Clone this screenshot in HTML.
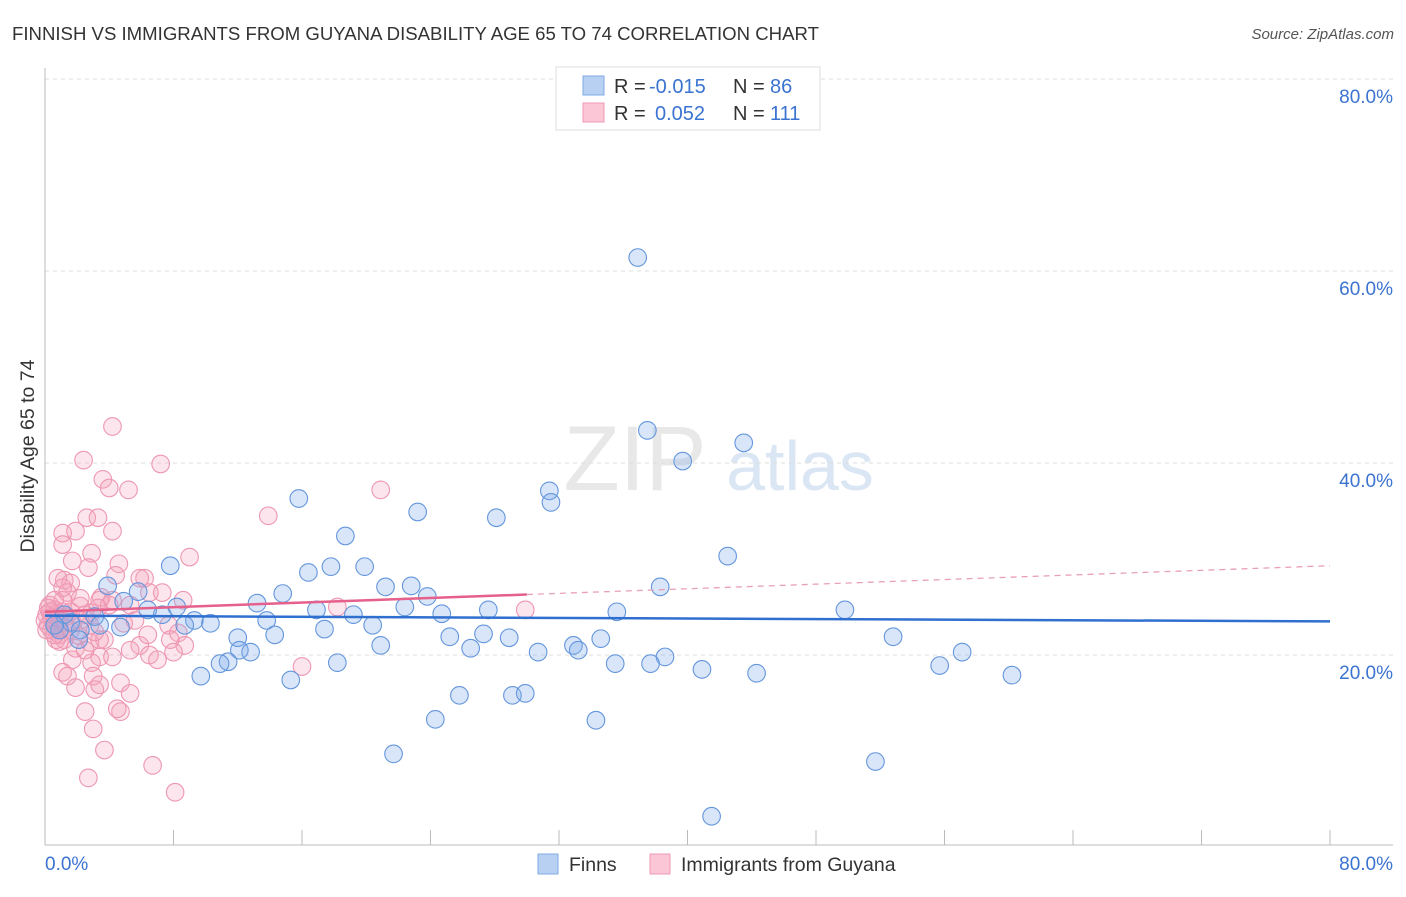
<!DOCTYPE html>
<html><head><meta charset="utf-8"><style>
body{margin:0;background:#fff;font-family:"Liberation Sans",sans-serif;}
svg text{font-family:"Liberation Sans",sans-serif;}
</style></head><body>
<svg id="chart" width="1406" height="892" xmlns="http://www.w3.org/2000/svg">
<text x="12" y="40" font-size="18.6" fill="#333">FINNISH VS IMMIGRANTS FROM GUYANA DISABILITY AGE 65 TO 74 CORRELATION CHART</text>
<text x="1394" y="39" font-size="15" fill="#555" text-anchor="end" font-style="italic">Source: ZipAtlas.com</text>
<text x="635" y="490" font-size="92" fill="#e8e8e8" text-anchor="middle" font-family="Liberation Serif">ZIP</text>
<text x="800" y="490" font-size="70" fill="#dbe6f5" text-anchor="middle">atlas</text>
<g id="grid"></g><g id="axes"></g><g id="pts"></g><g id="trend"></g>
<text transform="translate(34,456) rotate(-90)" font-size="19.5" fill="#333" text-anchor="middle">Disability Age 65 to 74</text>
<g>
<rect x="556" y="67" width="264" height="63" fill="#fff" stroke="#ddd"/>
<rect x="583" y="76" width="21" height="19" fill="#b8d1f3" stroke="#7ea9e0"/>
<rect x="583" y="103" width="21" height="19" fill="#fbc6d5" stroke="#ef9ab4"/>
<text x="614" y="93" font-size="20" fill="#333">R =</text>
<text x="649" y="93" font-size="20" fill="#3b73d1">-0.015</text>
<text x="733" y="93" font-size="20" fill="#333">N =</text>
<text x="770" y="93" font-size="20" fill="#3b73d1">86</text>
<text x="614" y="120" font-size="20" fill="#333">R =</text>
<text x="655" y="120" font-size="20" fill="#3b73d1">0.052</text>
<text x="733" y="120" font-size="20" fill="#333">N =</text>
<text x="770" y="120" font-size="20" fill="#3b73d1">111</text>
</g>
<g>
<rect x="538" y="854" width="20" height="20" fill="#b8d1f3" stroke="#7ea9e0"/>
<text x="569" y="871" font-size="19.5" fill="#333">Finns</text>
<rect x="650" y="854" width="20" height="20" fill="#fbc6d5" stroke="#ef9ab4"/>
<text x="681" y="871" font-size="19.5" fill="#333">Immigrants from Guyana</text>
</g>
</svg>
<script>
const yTicks=[20,40,60,80];
const xTicks=[8,16,24,32,40,48,56,64,72,80];
const blueX=[36.9,37.5,39.7,43.5,31.4,31.5,15.8,23.2,28.1,18.7,42.5,7.8,16.4,17.8,19.9,21.2,22.8,23.8,38.3,3.9,5.8,4.9,8.2,6.4,13.2,14.8,22.4,16.9,19.2,27.6,35.6,49.8,7.3,9.3,10.3,8.7,3.1,4.7,1.6,2.2,13.8,20.4,24.7,17.4,12.0,14.3,25.2,27.3,28.9,30.7,32.9,34.6,52.8,20.9,12.1,12.8,26.5,33.2,38.6,57.1,11.4,10.9,18.2,35.5,37.7,40.9,44.3,55.7,60.2,9.7,15.3,25.8,29.1,29.9,24.3,34.3,21.7,51.7,41.5,0.9,1.2,2.1,3.4,0.6];
const blueY=[61.4,43.4,40.2,42.1,37.1,35.9,36.3,34.9,34.3,32.4,30.3,29.3,28.6,29.2,29.2,27.1,27.2,26.1,27.1,27.2,26.6,25.6,25.0,24.7,25.4,26.4,25.0,24.7,24.2,24.7,24.5,24.7,24.2,23.6,23.3,23.1,24.0,22.9,23.4,22.6,23.6,23.1,24.3,22.7,21.8,22.1,21.9,22.2,21.8,20.3,21.0,21.7,21.9,21.0,20.5,20.3,20.7,20.5,19.8,20.3,19.3,19.1,19.2,19.1,19.1,18.5,18.1,18.9,17.9,17.8,17.4,15.8,15.8,16.0,13.3,13.2,9.7,8.9,3.2,22.6,24.2,21.6,23.1,23.1];
const pinkX=[4.2,2.4,7.2,3.6,4.0,5.2,13.9,2.6,3.3,4.2,1.1,1.9,1.1,2.9,1.7,4.6,2.7,4.4,6.2,1.2,0.8,1.6,6.5,8.6,1.4,3.5,2.2,3.4,1.1,18.2,9.0,20.9,29.9,7.3,0.6,0.3,0.8,1.3,2.2,0.6,0.2,0.4,0.9,1.6,2.8,3.7,4.9,7.7,8.3,8.7,5.9,6.5,5.3,7.0,7.8,6.4,1.2,1.9,2.8,3.4,4.2,1.7,2.9,1.1,1.4,3.0,4.7,3.1,1.9,3.4,5.3,2.5,4.7,4.5,3.0,3.7,2.7,6.7,8.1,3.4,0.7,0.1,0.0,4.0,5.3,5.6,2.2,1.1,2.9,1.7,1.2,0.8,0.3,0.1,1.1,5.9,3.3,2.1,2.5,16.0,8.0,0.9,0.6,4.2,3.1,0.9,0.2,1.6,2.5,0.4,0.6];
const pinkY=[43.8,40.3,39.9,38.3,37.4,37.2,34.5,34.3,34.3,32.9,32.7,32.9,31.5,30.6,29.8,29.5,29.1,28.3,28.0,27.8,28.0,27.5,26.5,25.7,26.5,26.0,25.1,25.7,25.7,25.0,30.2,37.2,24.7,26.5,24.7,25.2,24.3,24.0,23.6,23.4,23.1,22.6,22.1,22.6,23.1,21.6,23.3,23.1,22.3,21.0,21.0,20.0,20.5,19.5,21.6,22.1,21.6,20.7,21.3,19.8,19.8,19.5,19.2,18.2,17.8,17.8,17.1,16.4,16.6,16.9,16.0,14.1,14.1,14.4,12.3,10.1,7.2,8.5,5.7,21.6,21.6,24.2,23.6,25.2,25.2,23.6,25.9,27.0,24.4,23.4,23.4,22.8,24.5,22.6,24.5,28.0,24.9,22.0,20.5,18.8,20.3,21.4,25.7,25.7,22.4,23.6,24.9,24.5,24.2,23.9,22.1];
const blueTrend=[24.1,23.5];
const pinkTrend=[24.5,29.3];
const pinkSolidEnd=30;

const NS="http://www.w3.org/2000/svg";
const X=v=>45+v*(1285/80);
const Y=v=>847-v*9.6;
function mk(t,a,p){const e=document.createElementNS(NS,t);for(const k in a)e.setAttribute(k,a[k]);document.getElementById(p).appendChild(e);return e;}
yTicks.forEach(t=>{
 const l=mk('line',{x1:45,x2:1393,y1:Y(t),y2:Y(t),stroke:'#ddd','stroke-dasharray':'4,4'},'grid');
 
 
 const tx=mk('text',{x:1393,y:Y(t)+24,'font-size':19,fill:'#3b73d1','text-anchor':'end'},'grid');
 tx.textContent=t.toFixed(1)+'%';
 
 
});
const ya=mk('line',{x1:45,x2:45,y1:68,y2:845,stroke:'#bbb'},'axes');


const xa=mk('line',{x1:45,x2:1393,y1:845,y2:845,stroke:'#bbb'},'axes');


xTicks.forEach(t=>{
 const l=mk('line',{x1:X(t),x2:X(t),y1:830,y2:845,stroke:'#bbb'},'axes');
 
 
});
[[0,'start',45],[80,'end',1393]].forEach(([v,a,x])=>{
 const tx=mk('text',{x:x,y:870,'font-size':19,fill:'#3b73d1','text-anchor':a},'axes');
 tx.textContent=v.toFixed(1)+'%';
 
 
});
function pts(xs,ys,fill,stroke,name){xs.forEach((v,i)=>{
 const c=mk('circle',{cx:X(v),cy:Y(ys[i]),r:8.8,fill:fill,stroke:stroke,'stroke-width':1.1},'pts');
 
 
});}
pts(pinkX,pinkY,'rgba(244,160,188,0.28)','#ee97b2','guyana-point');
pts(blueX,blueY,'rgba(130,172,235,0.3)','#6496dc','finns-point');
const bt=mk('line',{x1:X(0),y1:Y(blueTrend[0]),x2:X(80),y2:Y(blueTrend[1]),stroke:'#2f6fd0','stroke-width':2.5},'trend');


const py=v=>pinkTrend[0]+(pinkTrend[1]-pinkTrend[0])*v/80;
const pd=mk('line',{x1:X(pinkSolidEnd),y1:Y(py(pinkSolidEnd)),x2:X(80),y2:Y(pinkTrend[1]),stroke:'#e8a0b8','stroke-width':1.3,'stroke-dasharray':'6,5'},'trend');


const ps=mk('line',{x1:X(0),y1:Y(pinkTrend[0]),x2:X(pinkSolidEnd),y2:Y(py(pinkSolidEnd)),stroke:'#e5608a','stroke-width':2.5},'trend');


</script>
</body></html>
